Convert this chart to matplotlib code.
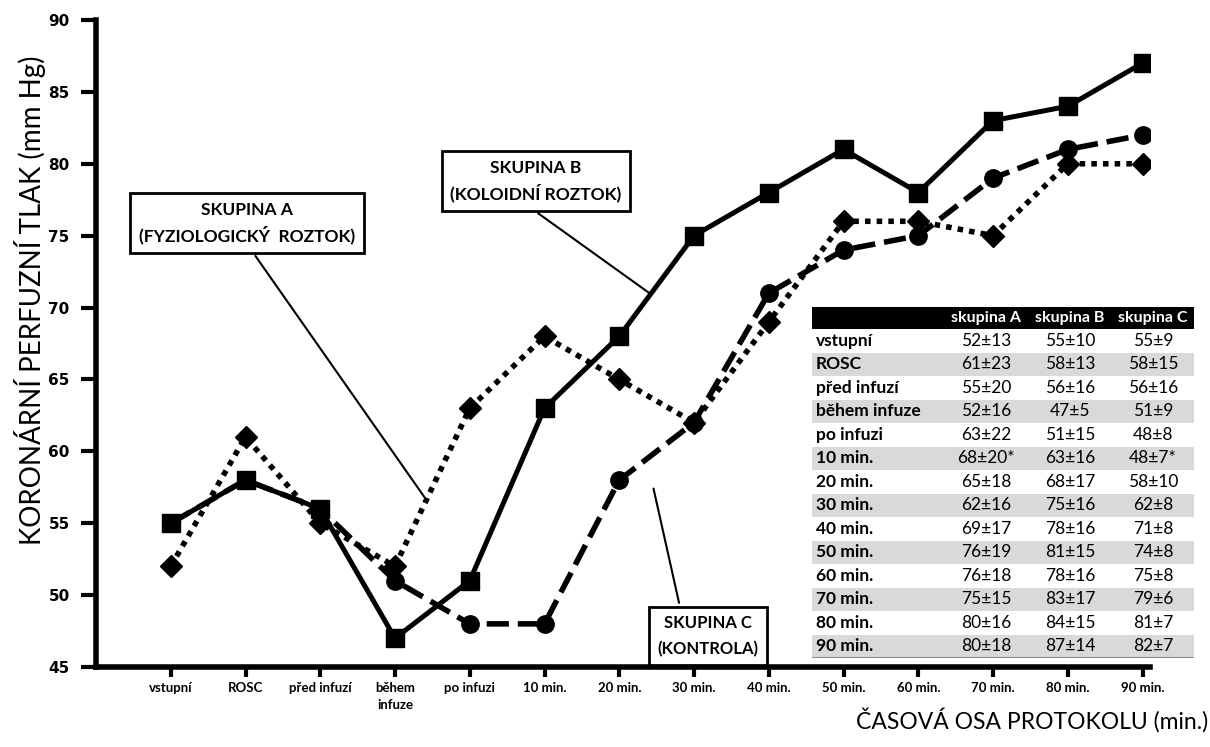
import numpy as np
import matplotlib
matplotlib.use("Agg")
import matplotlib.pyplot as plt
from matplotlib.patches import Rectangle

labels = ["vstupní", "ROSC", "před infuzí", "během\ninfuze", "po infuzi", "10 min.", "20 min.",
          "30 min.", "40 min.", "50 min.", "60 min.", "70 min.", "80 min.", "90 min."]
row_names = ["vstupní", "ROSC", "před infuzí", "během infuze", "po infuzi", "10 min.", "20 min.",
             "30 min.", "40 min.", "50 min.", "60 min.", "70 min.", "80 min.", "90 min."]
group_a = [52, 61, 55, 52, 63, 68, 65, 62, 69, 76, 76, 75, 80, 80]
group_b = [55, 58, 56, 47, 51, 63, 68, 75, 78, 81, 78, 83, 84, 87]
group_c = [55, 58, 56, 51, 48, 48, 58, 62, 71, 74, 75, 79, 81, 82]
sd_a = [13, 23, 20, 16, 22, 20, 18, 16, 17, 19, 18, 15, 16, 18]
sd_b = [10, 13, 16, 5, 15, 16, 17, 16, 16, 15, 16, 17, 15, 14]
sd_c = [9, 15, 16, 9, 8, 7, 10, 8, 8, 8, 8, 6, 7, 7]
star_a = ["", "", "", "", "", "*", "", "", "", "", "", "", "", ""]
star_c = ["", "", "", "", "", "*", "", "", "", "", "", "", "", ""]
headers = ["skupina A", "skupina B", "skupina C"]

plt.rcParams['font.family'] = ['Lato', 'DejaVu Sans']

x = np.arange(len(labels))
fig = plt.figure(figsize=(12.1, 7.47), dpi=100)
ax = fig.add_axes([96/1210, 1-667/747, (1150-96)/1210, (667-20)/747])

ax.plot(x, group_a, color="black", lw=4, ls=(0, (1, 1.1)), marker="D", ms=11, zorder=3)
ax.plot(x, group_c, color="black", lw=4, ls=(0, (4, 1.6)), marker="o", ms=12.5, zorder=4)
ax.plot(x, group_b, color="black", lw=3.6, ls="-", marker="s", ms=13, zorder=5)

ax.set_xlim(-1, 13.1)
ax.set_ylim(45, 90)
ax.set_yticks(np.arange(45, 91, 5))
ax.set_xticks(x)
ax.set_xticklabels(labels, fontsize=9.5, fontweight="bold", linespacing=1.5)
for t in ax.get_yticklabels():
    t.set_family("DejaVu Sans")
    t.set_fontweight("bold")
    t.set_fontsize(11)
ax.tick_params(axis="y", length=11, width=3, pad=8)
ax.tick_params(axis="x", length=7, width=3, pad=4)
for s in ["top", "right"]:
    ax.spines[s].set_visible(False)
for s in ["left", "bottom"]:
    ax.spines[s].set_linewidth(4)

fig.text(30/1210, 1-300/747, "KORONÁRNÍ PERFUZNÍ TLAK (mm Hg)", rotation=90,
         ha="center", va="center", fontsize=20)
fig.text(1208/1210, 1-720/747, "ČASOVÁ OSA PROTOKOLU (min.)", ha="right", va="center", fontsize=16.5)

# callout boxes with leader lines
box = dict(boxstyle="square,pad=0.5", fc="white", ec="black", lw=2)
ax.annotate("SKUPINA A\n(FYZIOLOGICKÝ  ROZTOK)", xy=(3.42, np.interp(3.42, x, group_a)),
            xycoords="data", xytext=(247, 747-223), textcoords="figure pixels",
            ha="center", va="center", fontsize=12.5, fontweight="bold", bbox=box,
            linespacing=1.45, arrowprops=dict(arrowstyle="-", lw=1.5, color="black", relpos=(0.5, 0)),
            zorder=6)
ax.annotate("SKUPINA B\n(KOLOIDNÍ ROZTOK)", xy=(6.42, np.interp(6.42, x, group_b)),
            xycoords="data", xytext=(536, 747-181), textcoords="figure pixels",
            ha="center", va="center", fontsize=12.5, fontweight="bold", bbox=box,
            linespacing=1.45, arrowprops=dict(arrowstyle="-", lw=1.5, color="black", relpos=(0.42, 0)),
            zorder=6)
ax.annotate("SKUPINA C\n(KONTROLA)", xy=(6.45, np.interp(6.45, x, group_c) - 2.2),
            xycoords="data", xytext=(708, 747-636), textcoords="figure pixels",
            ha="center", va="center", fontsize=12, fontweight="bold", bbox=box,
            linespacing=1.75, arrowprops=dict(arrowstyle="-", lw=1.5, color="black", relpos=(0.24, 1)),
            zorder=6)

# table
tw, th = 382, 351
tax = fig.add_axes([812/1210, (747-658)/747, tw/1210, th/747])
tax.set_xlim(0, tw)
tax.set_ylim(th, 0)
tax.axis("off")
hh, rh = 22, 23.5
cols = [174, 258, 341]
tax.add_patch(Rectangle((0, 0), tw, hh, fc="black", ec="none"))
for c, h in zip(cols, headers):
    tax.text(c, hh/2, h, color="white", fontweight="bold", fontsize=11.5, ha="center", va="center")
for i, name in enumerate(row_names):
    y0 = hh + i*rh
    if i % 2 == 1:
        tax.add_patch(Rectangle((0, y0), tw, rh, fc="#d9d9d9", ec="none"))
    yc = y0 + rh/2
    tax.text(4, yc, name, fontweight="bold", fontsize=12.5, ha="left", va="center")
    tax.text(cols[0], yc, f"{group_a[i]}±{sd_a[i]}{star_a[i]}", fontsize=12.5, ha="center", va="center")
    tax.text(cols[1], yc, f"{group_b[i]}±{sd_b[i]}", fontsize=12.5, ha="center", va="center")
    tax.text(cols[2], yc, f"{group_c[i]}±{sd_c[i]}{star_c[i]}", fontsize=12.5, ha="center", va="center")
tax.plot([0, tw], [th-0.5, th-0.5], color="#808080", lw=2)

fig.savefig("out.png", dpi=100)
